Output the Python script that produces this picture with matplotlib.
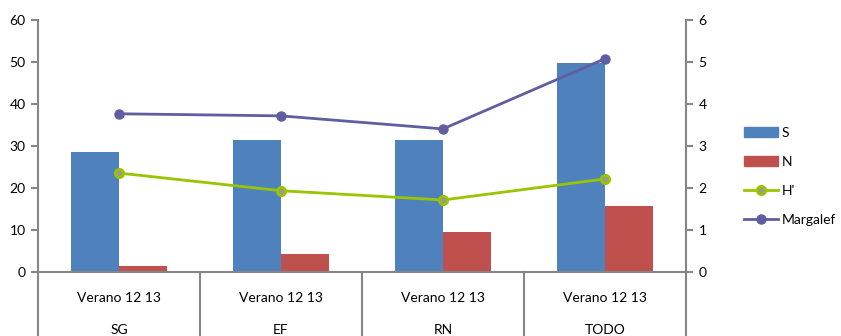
import matplotlib
matplotlib.use("Agg")
import matplotlib.pyplot as plt
import numpy as np
from matplotlib.lines import Line2D
from matplotlib.patches import Patch

plt.rcParams['font.family'] = ['Lato', 'DejaVu Sans']

sites = ["SG", "EF", "RN", "TODO"]
season = "Verano 12 13"
S = [28.6, 31.5, 31.5, 49.7]
N = [1.5, 4.3, 9.6, 15.8]
H = [2.36, 1.94, 1.72, 2.22]
margalef = [3.77, 3.72, 3.41, 5.08]

c_S = "#4f81bd"
c_N = "#c0504d"
c_H = "#99c400"
c_M = "#5f5ea0"
c_ax = "#868686"
c_face = "#9a9a8a"

W, Hpx = 841, 336
fig = plt.figure(figsize=(W / 100, Hpx / 100), dpi=100)
x0, x1 = 38 / W, 686 / W
y0, y1 = 1 - 272.3 / Hpx, 1 - 20 / Hpx
ax = fig.add_axes([x0, y0, x1 - x0, y1 - y0])
ax2 = ax.twinx()

x = np.arange(len(sites))
bw = 0.296
ax.bar(x - bw / 2, S, width=bw, color=c_S, zorder=2)
ax.bar(x + bw / 2, N, width=bw, color=c_N, zorder=2)
ax.set_xlim(-0.5, len(sites) - 0.5)
ax.set_ylim(0, 60)
ax.set_yticks(range(0, 61, 10))

ax2.plot(x, H, color=c_H, lw=2, marker='o', ms=6, mfc=c_face, mec=c_H, mew=2, zorder=3)
ax2.plot(x, margalef, color=c_M, lw=2, marker='o', ms=6.5, mfc=c_M, mec=c_M, zorder=3)
ax2.set_ylim(0, 6)
ax2.set_yticks(range(0, 7))

for a in (ax, ax2):
    a.spines['top'].set_visible(False)
    a.spines['bottom'].set_visible(False)
    for s in ('left', 'right'):
        a.spines[s].set_color(c_ax)
        a.spines[s].set_linewidth(1.5)
    a.tick_params(axis='y', colors=c_ax, labelcolor='black', labelsize=10,
                  length=5, width=1.5, direction='out', pad=4)
    a.set_xticks([])
ax.spines['right'].set_visible(False)
ax2.spines['left'].set_visible(False)
ax.patch.set_visible(False)

# baseline at zero and category dividers running down through the label area
trans = ax.get_xaxis_transform()
ax.plot([-0.5 - 5 / 162, 3.5], [0, 0], transform=trans, color=c_ax, lw=1.5,
        clip_on=False, zorder=4)
px = 1 / (272.3 - 20)
bottom = -(Hpx - 272.3) * px
for xd in np.arange(-0.5, len(sites), 1.0):
    ax.plot([xd, xd], [0, bottom], transform=trans, color=c_ax, lw=1.5, clip_on=False)

for i, s in enumerate(sites):
    ax.text(i, -(298 - 272.3) * px, season, transform=trans, ha='center', va='center', fontsize=10)
    ax.text(i, -(330 - 272.3) * px, s, transform=trans, ha='center', va='center', fontsize=10)

handles = [Patch(color=c_S), Patch(color=c_N),
           Line2D([], [], color=c_H, lw=2, marker='o', ms=6, mfc=c_face, mec=c_H, mew=2),
           Line2D([], [], color=c_M, lw=2, marker='o', ms=6.5, mfc=c_M, mec=c_M)]
fig.legend(handles, ["S", "N", "H'", "Margalef"], loc='center left',
           bbox_to_anchor=(731 / W, 1 - 176.5 / Hpx), frameon=False, fontsize=10,
           handlelength=2.5, handleheight=0.7, labelspacing=1.22, handletextpad=0.25,
           borderpad=0.4)

fig.savefig("out.png", dpi=100)
